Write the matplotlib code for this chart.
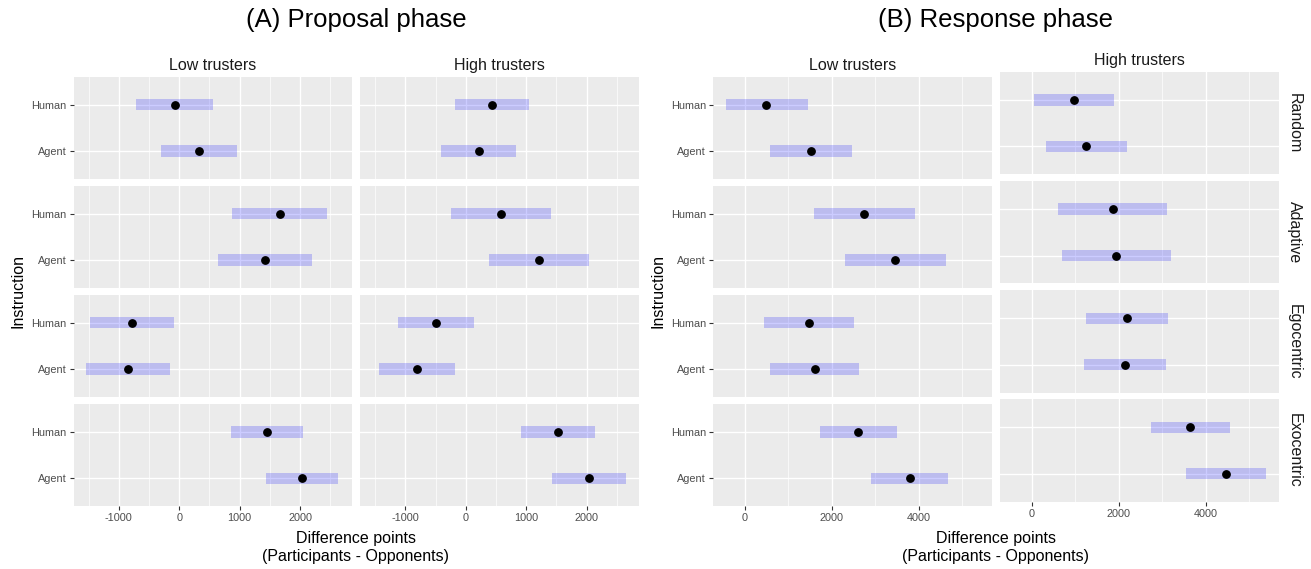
import matplotlib
matplotlib.use("Agg")
import matplotlib.pyplot as plt
import numpy as np

plt.rcParams['font.family'] = ['Liberation Sans', 'DejaVu Sans']

instructions = ["Random", "Adaptive", "Egocentric", "Exocentric"]
groups = ["Low trusters", "High trusters"]
partners = ["Human", "Agent"]
titles = ["(A) Proposal phase", "(B) Response phase"]

# rows = instruction, columns = (Human, Agent)
prop_low_mean = [[-71, 320], [1664, 1415], [-779, -846], [1454, 2035]]
prop_low_lo = [[-713, -310], [879, 635], [-1476, -1542], [862, 1443]]
prop_low_hi = [[559, 957], [2449, 2206], [-88, -149], [2045, 2637]]

prop_high_mean = [[437, 219], [579, 1208], [-487, -803], [1520, 2038]]
prop_high_lo = [[-186, -405], [-251, 382], [-1115, -1438], [913, 1431]]
prop_high_hi = [[1054, 836], [1410, 2038], [143, -175], [2136, 2651]]

resp_low_mean = [[497, 1520], [2748, 3458], [1475, 1603], [2604, 3788]]
resp_low_lo = [[-442, 582], [1596, 2299], [444, 573], [1727, 2909]]
resp_low_hi = [[1459, 2466], [3916, 4619], [2505, 2634], [3490, 4672]]

resp_high_mean = [[969, 1252], [1855, 1939], [2191, 2145], [3641, 4458]]
resp_high_lo = [[39, 321], [611, 703], [1252, 1198], [2732, 3542]]
resp_high_hi = [[1900, 2190], [3098, 3190], [3137, 3091], [4557, 5382]]

prop_ticks = [-1000, 0, 1000, 2000]
prop_minor = [-1500, -500, 500, 1500, 2500]
resp_ticks = [0, 2000, 4000]
resp_minor = [1000, 3000, 5000]

phases = [
    ([(prop_low_mean, prop_low_lo, prop_low_hi),
      (prop_high_mean, prop_high_lo, prop_high_hi)], prop_ticks, prop_minor),
    ([(resp_low_mean, resp_low_lo, resp_low_hi),
      (resp_high_mean, resp_high_lo, resp_high_hi)], resp_ticks, resp_minor),
]

W, H = 1311, 569
fig = plt.figure(figsize=(W / 100, H / 100), dpi=100)

col_left = [[73.5, 360], [713, 1000]]
col_w = 278.5
row_top0 = 76.7
row_h = 102.1
row_gap = 7.0
shift = [[0, 0], [0, 4.5]]   # panel B right column sits a little higher

bg = '#EBEBEB'
tick_col = '#4D4D4D'

for p, (data, ticks, minor) in enumerate(phases):
    allv = np.concatenate([np.ravel(d[1]) for d in data] + [np.ravel(d[2]) for d in data])
    span = allv.max() - allv.min()
    xlim = (allv.min() - 0.05 * span, allv.max() + 0.05 * span)
    for g in range(2):
        mean, lo, hi = (np.array(a, dtype=float) for a in data[g])
        for i in range(4):
            top = row_top0 + i * (row_h + row_gap) - shift[p][g]
            ax = fig.add_axes([col_left[p][g] / W, 1 - (top + row_h) / H,
                               col_w / W, row_h / H])
            ax.set_facecolor(bg)
            for s in ax.spines.values():
                s.set_visible(False)
            ypos = np.array([2, 1])
            ax.barh(ypos, hi[i] - lo[i], left=lo[i], height=0.245,
                    color='blue', alpha=0.2, zorder=3, linewidth=0)
            ax.plot(mean[i], ypos, 'o', color='black', ms=5.3, zorder=4)
            ax.set_xlim(xlim)
            ax.set_ylim(0.4, 2.6)
            ax.set_xticks(ticks)
            ax.set_xticks(minor, minor=True)
            ax.set_yticks(ypos)
            ax.grid(True, which='major', color='white', lw=1.0, zorder=1)
            ax.grid(True, which='minor', axis='x', color='white', lw=0.5, zorder=1)
            ax.tick_params(which='minor', length=0)
            ax.tick_params(which='major', length=3, width=0.8, color='#333333',
                           labelsize=7.8, labelcolor=tick_col, pad=2)
            if g == 0:
                ax.set_yticklabels(partners)
            else:
                ax.tick_params(axis='y', length=0, labelleft=False)
            if i == 3:
                ax.set_xticklabels([str(t) for t in ticks])
            else:
                ax.tick_params(axis='x', length=0, labelbottom=False)
            if i == 0:
                ax.set_title(groups[g], fontsize=11.5, color='#1A1A1A', pad=5)
            if p == 1 and g == 1:
                ax.text(1.058, 0.5, instructions[i], transform=ax.transAxes,
                        rotation=-90, va='center', ha='center',
                        fontsize=11.5, color='#1A1A1A')

    cx = (col_left[p][0] + col_left[p][1] + col_w) / 2
    fig.text(cx / W, 1 - 20 / H, titles[p], ha='center', va='center', fontsize=18.5)
    fig.text(cx / W, 1 - 538 / H, "Difference points", ha='center', va='center',
             fontsize=11.5)
    fig.text(cx / W, 1 - 556 / H, "(Participants - Opponents)", ha='center',
             va='center', fontsize=11.5)
    fig.text((col_left[p][0] - 55) / W, 1 - 291 / H, "Instruction", rotation=90,
             ha='center', va='center', fontsize=11.5)

fig.savefig('out.png', dpi=100, facecolor='white')
